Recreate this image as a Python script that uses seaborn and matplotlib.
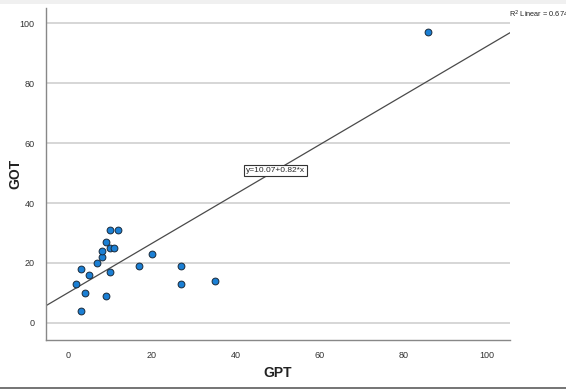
import numpy as np
import pandas as pd
import seaborn as sns
import matplotlib.pyplot as plt

gpt = [2, 3, 3, 4, 5, 7, 8, 8, 9, 9, 10, 10, 10, 11, 12, 17, 20, 27, 27, 35, 86]
got = [13, 18, 4, 10, 16, 20, 22, 24, 27, 9, 31, 25, 17, 25, 31, 19, 23, 19, 13, 14, 97]
ticks = [0, 20, 40, 60, 80, 100]

df = pd.DataFrame({'GPT': gpt, 'GOT': got})

sns.set_theme()
sns.set_style('white')
plt.rcParams['font.family'] = ['Liberation Sans', 'DejaVu Sans']

fig = plt.figure(figsize=(5.66, 3.89), dpi=100)
ax = fig.add_axes([0.081, 0.126, 0.82, 0.853])
ax.set_xlim(-5.3, 105.5)
ax.set_ylim(-5.7, 105)

for t in ticks:
    ax.axhline(t, color='#d6d6d6', lw=1.4, zorder=0)

# truncate=False -> line runs across the whole x range
sns.regplot(data=df, x='GPT', y='GOT', ci=None, truncate=False, ax=ax,
            scatter_kws=dict(s=24, color='#1b7fd4', edgecolor='#1a2a3a',
                             linewidths=0.7, alpha=1, zorder=3),
            line_kws=dict(color='#4a4a4a', lw=0.9, zorder=2))
ax.set_xlim(-5.3, 105.5)
ax.set_ylim(-5.7, 105)

ax.set_xticks(ticks)
ax.set_yticks(ticks)
ax.tick_params(axis='both', length=0, labelsize=6.5, colors='#333333', pad=8)
ax.set_xlabel('GPT', fontsize=10, fontweight='bold', color='#222222')
ax.set_ylabel('GOT', fontsize=10, fontweight='bold', color='#222222')
ax.xaxis.set_label_coords(0.5, -0.078)
ax.yaxis.set_label_coords(-0.05, 0.5)
for s in ['top', 'right']:
    ax.spines[s].set_visible(False)
for s in ['left', 'bottom']:
    ax.spines[s].set_color('#888888')
    ax.spines[s].set_linewidth(1.0)

ax.text(49.6, 50.8, 'y=10.07+0.82*x', fontsize=6, ha='center', va='center',
        bbox=dict(boxstyle='square,pad=0.25', fc='white', ec='#333333', lw=0.8), zorder=5)
fig.text(0.899, 0.962, 'R$^2$ Linear = 0.674', fontsize=5.3, ha='left', va='center', color='#222222')

# window frame bits of the screenshot
fig.add_artist(plt.Rectangle((0, 0.99), 1, 0.01, transform=fig.transFigure, color='#f0f0f0', lw=0))
fig.add_artist(plt.Rectangle((0, 0), 1, 0.004, transform=fig.transFigure, color='#777777', lw=0))

fig.savefig('out.png', dpi=100)
